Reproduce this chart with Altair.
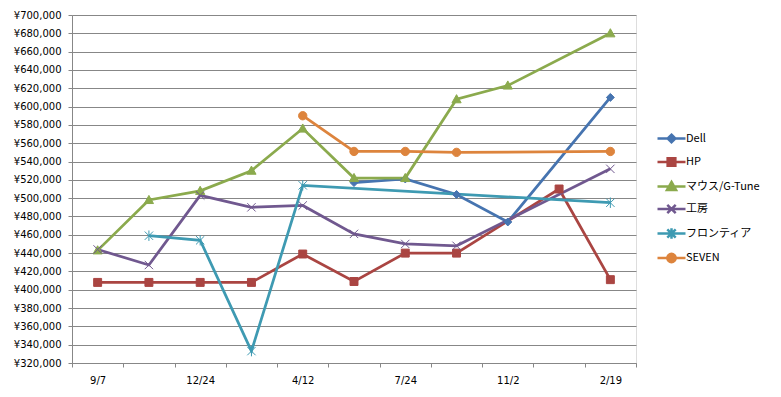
import json
import altair as alt
import pandas as pd

# ---------------- data ----------------
categories = ["9/7", "", "12/24", "", "4/12", "", "7/24", "", "11/2", "", "2/19"]
series = ["Dell", "HP", "マウス/G-Tune", "工房", "フロンティア", "SEVEN"]

dell = [None, None, None, None, None, 517000, 521000, 504000, 474000, None, 610000]
hp = [408000, 408000, 408000, 408000, 439000, 409000, 440000, 440000, None, 510000, 411000]
mouse = [443000, 498000, 508000, 530000, 576000, 522000, 522000, 608000, 623000, None, 680000]
kobo = [444000, 427000, 503000, 490000, 492000, 461000, 450000, 448000, None, None, 532000]
frontier = [None, 459000, 454000, 333000, 514000, None, None, None, None, None, 495000]
seven = [None, None, None, None, 590000, 551000, 551000, 550000, None, None, 551000]

colors = ["#4674B0", "#AA4542", "#8BAA4D", "#70588F", "#3E9AB2", "#DD843D"]
fills = ["#4674B0", "#AA4542", "#8BAA4D", "transparent", "transparent", "#DD843D"]

y_ticks = list(range(320000, 700001, 20000))

# ---------------- table ----------------
rows = []
for name, vals in zip(series, [dell, hp, mouse, kobo, frontier, seven]):
    for i, v in enumerate(vals):
        if v is not None:
            rows.append({"i": i, "value": v, "series": name})
df = pd.DataFrame(rows)

# marker shapes (unit size)
marker_paths = [
    "M0,-0.95L0.95,0L0,0.95L-0.95,0Z",
    "M-0.95,-0.95H0.95V0.95H-0.95Z",
    "M0,-1.1L1.1,0.85H-1.1Z",
    "M-1,-1L1,1M-1,1L1,-1",
    "M-1,-1L1,1M-1,1L1,-1M0,-1.25V1.25",
    "M-1,0A1,1 0 1,0 1,0A1,1 0 1,0 -1,0Z",
]
legend_paths = [
    "M-2,0H2M0,-0.55L0.55,0L0,0.55L-0.55,0Z",
    "M-2,0H2M-0.55,-0.55H0.55V0.55H-0.55Z",
    "M-2,0H2M0,-0.65L0.65,0.5H-0.65Z",
    "M-2,0H2M-0.6,-0.6L0.6,0.6M-0.6,0.6L0.6,-0.6",
    "M-2,0H2M-0.6,-0.6L0.6,0.6M-0.6,0.6L0.6,-0.6M0,-0.75V0.75",
    "M-2,0H2M-0.6,0A0.6,0.6 0 1,0 0.6,0A0.6,0.6 0 1,0 -0.6,0Z",
]

GRID = "#878787"
label_array = json.dumps(categories)

x_enc = alt.X(
    "i:Q",
    scale=alt.Scale(domain=[-0.5, 10.5], nice=False, zero=False),
    axis=alt.Axis(
        values=[k * 0.5 for k in range(-1, 22)],
        labelExpr="datum.value % 1 !== 0 ? '' : " + label_array + "[round(datum.value)]",
        tickOpacity={"condition": {"test": "datum.value % 1 !== 0", "value": 1}, "value": 0},
        grid=False,
        title=None,
        tickSize=4,
        tickColor=GRID,
        domainColor=GRID,
        labelPadding=8,
        labelOverlap=False,
        labelFlush=False,
        labelFont="DejaVu Sans",
        labelFontSize=10,
        labelColor="black",
    ),
)
y_enc = alt.Y(
    "value:Q",
    scale=alt.Scale(domain=[320000, 700000], nice=False, zero=False),
    axis=alt.Axis(
        values=y_ticks,
        labelExpr="'¥' + format(datum.value, ',')",
        grid=True,
        gridColor=GRID,
        gridWidth=1,
        domainColor=GRID,
        tickColor=GRID,
        tickSize=4,
        labelPadding=7,
        title=None,
        labelFont="DejaVu Sans",
        labelFontSize=10,
        labelColor="black",
    ),
)

base = alt.Chart(df)

lines = base.mark_line(strokeWidth=2.75).encode(
    x=x_enc,
    y=y_enc,
    color=alt.Color("series:N", scale=alt.Scale(domain=series, range=colors), legend=None),
)

points = base.mark_point(filled=False, opacity=1, strokeWidth=1, size=70).encode(
    x=x_enc,
    y=y_enc,
    shape=alt.Shape("series:N", scale=alt.Scale(domain=series, range=marker_paths), legend=None),
    stroke=alt.Stroke("series:N", scale=alt.Scale(domain=series, range=colors), legend=None),
    fill=alt.Fill("series:N", scale=alt.Scale(domain=series, range=fills), legend=None),
)

leg = alt.Legend(
    title=None,
    orient="none",
    legendX=591,
    legendY=115,
    padding=0,
    labelFont="Noto Sans CJK JP",
    labelFontSize=11,
    labelColor="black",
    symbolSize=196,
    symbolStrokeWidth=2.5,
    rowPadding=4.5,
    labelOffset=6,
)

legend_layer = base.transform_filter("false").mark_point(filled=False, opacity=1, strokeWidth=2.5).encode(
    x=x_enc,
    y=y_enc,
    shape=alt.Shape("series:N", scale=alt.Scale(domain=series, range=legend_paths), legend=leg),
    stroke=alt.Stroke("series:N", scale=alt.Scale(domain=series, range=colors), legend=leg),
    fill=alt.Fill("series:N", scale=alt.Scale(domain=series, range=fills), legend=leg),
)

chart = (
    alt.layer(lines, points, legend_layer)
    .resolve_scale(shape="independent", stroke="independent", fill="independent", color="independent")
    .properties(
        width=564,
        height=348,
        autosize="none",
        padding={"left": 64, "top": 7, "right": 137, "bottom": 26},
    )
    .configure_view(stroke=None)
    .configure(background="white")
)

chart.save("out.html", embed_options={"renderer": "svg", "actions": False})
